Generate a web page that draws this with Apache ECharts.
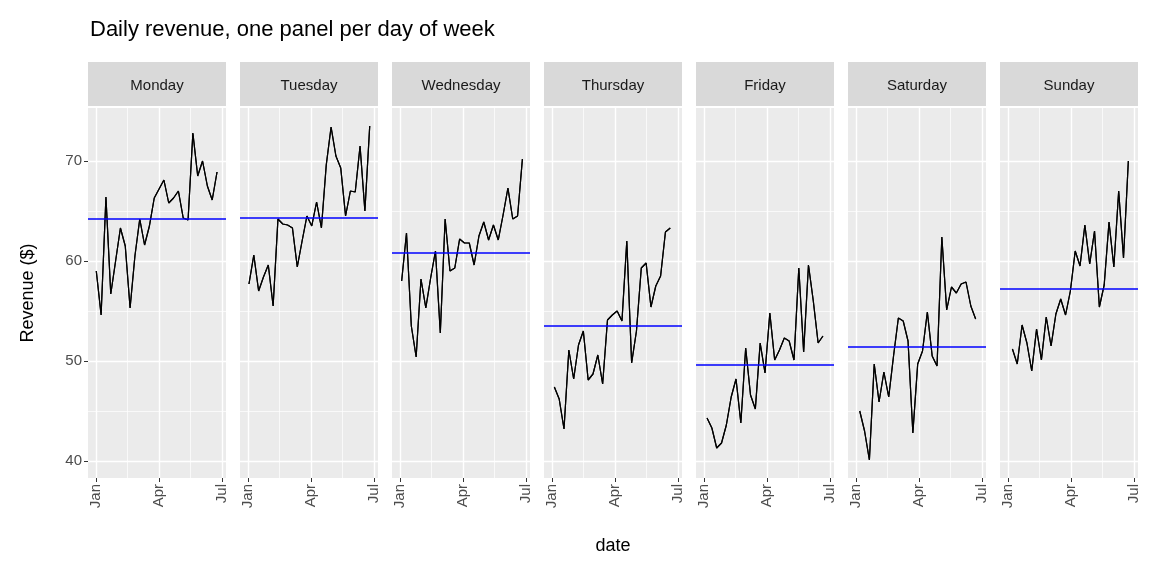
<!DOCTYPE html>
<html><head><meta charset="utf-8">
<script src="https://cdn.jsdelivr.net/npm/echarts@6/dist/echarts.min.js"></script>
<style>html,body{margin:0;padding:0;background:#fff}#c{width:1152px;height:576px}</style>
</head><body><div id="c"></div>
<script>
const days = ['Monday','Tuesday','Wednesday','Thursday','Friday','Saturday','Sunday'];
const startDates = ['2024-01-01','2024-01-02','2024-01-03','2024-01-04','2024-01-05','2024-01-06','2024-01-07'];
const monday = [59.0,54.6,66.4,56.7,60.0,63.3,61.5,55.3,60.5,64.2,61.6,63.5,66.3,67.2,68.1,65.8,66.3,67.0,64.3,64.1,72.8,68.5,70.0,67.5,66.1,68.9];
const tuesday = [57.7,60.6,57.0,58.4,59.6,55.5,64.2,63.7,63.6,63.3,59.4,62.0,64.5,63.5,65.9,63.3,69.6,73.4,70.5,69.3,64.5,67.0,66.9,71.5,65.0,73.5];
const wednesday = [58.0,62.8,53.5,50.4,58.2,55.3,58.3,61.0,52.8,64.2,59.0,59.3,62.2,61.8,61.8,59.6,62.5,63.9,62.1,63.6,62.1,64.6,67.3,64.2,64.5,70.2];
const thursday = [47.4,46.2,43.2,51.1,48.2,51.6,53.0,48.1,48.7,50.6,47.7,54.1,54.6,55.0,54.0,62.0,49.8,53.0,59.3,59.8,55.4,57.5,58.5,62.9,63.3];
const friday = [44.3,43.3,41.3,41.8,43.6,46.4,48.2,43.8,51.3,46.6,45.2,51.8,48.8,54.8,50.1,51.1,52.3,52.0,50.1,59.3,50.9,59.6,56.0,51.8,52.5];
const saturday = [45.0,43.0,40.1,49.7,45.9,48.9,46.4,50.5,54.3,54.0,52.0,42.8,49.7,51.0,54.9,50.5,49.5,62.4,55.1,57.4,56.8,57.7,57.9,55.5,54.2];
const sunday = [51.2,49.7,53.6,51.8,49.0,53.2,50.1,54.4,51.5,54.7,56.2,54.6,57.0,61.0,59.5,63.6,59.7,63.0,55.4,57.6,63.9,59.4,67.0,60.3,70.0];
const means = [64.2,64.3,60.8,53.5,49.6,51.4,57.2];
const yTicks = [40,50,60,70];
const yMinor = [45,55,65];
const xTicks = ['2024-01-01','2024-04-01','2024-07-01'];
const xMinor = ['2024-02-15','2024-05-16'];
const monthNames = ['Jan','Feb','Mar','Apr','May','Jun','Jul','Aug','Sep','Oct','Nov','Dec'];

const values = [monday,tuesday,wednesday,thursday,friday,saturday,sunday];
const DAY = 86400000;
function weekly(start, vals){
  const t0 = new Date(start+'T00:00:00Z').getTime();
  return vals.map((v,i)=>[t0+i*7*DAY, v]);
}
const ts = s => new Date(s+'T00:00:00Z').getTime();

const L0=88, W=138, STEP=152, TOP=108, H=370;
const grids=[], xAxes=[], yAxes=[], series=[], graphics=[];
days.forEach((d,i)=>{
  const left = L0+i*STEP;
  grids.push({left:left, top:TOP, width:W, height:H, backgroundColor:'#ebebeb', show:true, borderWidth:0});
  xAxes.push({type:'value', gridIndex:i, min:ts('2023-12-20'), max:ts('2024-07-07'),
    splitLine:{show:false}, axisLine:{show:false},
    axisTick:{show:true, length:4, lineStyle:{color:'#333', width:1}, customValues:xTicks.map(ts)},
    axisLabel:{show:true, rotate:90, color:'#4d4d4d', fontSize:15, fontFamily:'Liberation Sans', margin:6,
      customValues:xTicks.map(ts), formatter:v=>monthNames[new Date(v).getUTCMonth()]}});
  yAxes.push({type:'value', gridIndex:i, min:38.3, max:75.3,
    splitLine:{show:false}, axisLine:{show:false},
    axisTick:{show:i===0, length:4, lineStyle:{color:'#333'}, customValues:yTicks},
    axisLabel:{show:i===0, color:'#4d4d4d', fontSize:15, fontFamily:'Liberation Sans', margin:6, customValues:yTicks}});
  const gridLines = [];
  yTicks.forEach(v=>gridLines.push({yAxis:v, lineStyle:{color:'#fff', width:1.4, type:'solid'}}));
  yMinor.forEach(v=>gridLines.push({yAxis:v, lineStyle:{color:'#fff', width:0.7, type:'solid'}}));
  xTicks.forEach(v=>gridLines.push({xAxis:ts(v), lineStyle:{color:'#fff', width:1.4, type:'solid'}}));
  xMinor.forEach(v=>gridLines.push({xAxis:ts(v), lineStyle:{color:'#fff', width:0.7, type:'solid'}}));
  series.push({type:'line', xAxisIndex:i, yAxisIndex:i, data:weekly(startDates[i], values[i]),
    showSymbol:false, lineStyle:{color:'#000', width:1.2}, itemStyle:{color:'#000'}, animation:false, z:3,
    markLine:{silent:true, symbol:'none', label:{show:false}, animation:false, z:1, data:gridLines}});
  series.push({type:'line', xAxisIndex:i, yAxisIndex:i, data:weekly(startDates[i], values[i]),
    showSymbol:false, lineStyle:{color:'#000', width:1.2}, itemStyle:{color:'#000'}, animation:false, z:4,
    markLine:{silent:true, symbol:'none', label:{show:false}, animation:false,
      lineStyle:{color:'#0000ff', width:1.6, type:'solid'}, data:[{yAxis:means[i]}]}});
  graphics.push({type:'rect', shape:{x:left, y:62, width:W, height:44}, style:{fill:'#d9d9d9'}});
  graphics.push({type:'text', x:left+W/2, y:86, style:{text:d, fill:'#1a1a1a', font:'15px "Liberation Sans"', align:'center', verticalAlign:'middle'}});
});
graphics.push({type:'text', x:90, y:30, style:{text:'Daily revenue, one panel per day of week', fill:'#000', font:'22px "Liberation Sans"', verticalAlign:'middle'}});
graphics.push({type:'text', x:28, y:293, rotation:Math.PI/2, style:{text:'Revenue ($)', fill:'#000', font:'18px "Liberation Sans"', align:'center', verticalAlign:'middle'}});
graphics.push({type:'text', x:613, y:546, style:{text:'date', fill:'#000', font:'18px "Liberation Sans"', align:'center', verticalAlign:'middle'}});

const chart = echarts.init(document.getElementById('c'));
chart.setOption({animation:false, backgroundColor:'#fff', grid:grids, xAxis:xAxes, yAxis:yAxes, series:series, graphic:graphics});
</script></body></html>
